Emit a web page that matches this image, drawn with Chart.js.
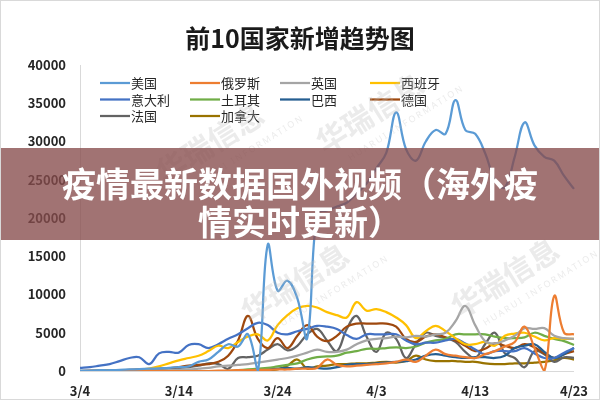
<!DOCTYPE html>
<html>
<head>
<meta charset="utf-8">
<script src="https://cdn.jsdelivr.net/npm/chart.js@4.4.0/dist/chart.umd.min.js"></script>
<style>
  html, body { margin: 0; padding: 0; background: #fff; }
  #wrap { position: relative; width: 600px; height: 400px; overflow: hidden; }
  #frame { position: absolute; left: 0; top: 0; width: 598px; height: 398px; border: 1px solid #d9d9d9; pointer-events: none; }
  #title { position: absolute; left: 0; top: 22px; width: 600px; text-align: center; color: #1a1a1a;
           font: bold 25px/30px "Noto Sans CJK SC"; }
  .wm { position: absolute; color: rgba(190,190,190,0.3); font: bold 30px "Noto Sans CJK SC"; transform: rotate(-32deg); white-space: nowrap; }
  .wm small { display: block; font: 9px "Noto Sans", sans-serif; letter-spacing: 2px; margin-left: 18px; }
  #banner { position: absolute; left: 0; top: 148px; width: 600px; height: 92px; background: rgba(135,75,75,0.78);
            color: #fff; font: bold 34px/38px "Noto Sans CJK SC"; text-align: center; padding-top: 16px; box-sizing: border-box; }
</style>
</head>
<body>
<div id="wrap">
  <canvas id="c" width="600" height="400"></canvas>
  <div id="title">前10国家新增趋势图</div>
  <div class="wm" style="left:150px;top:110px;">华瑞信息<small>HUARUI INFORMATION</small></div>
  <div class="wm" style="left:310px;top:80px;">华瑞信息<small>HUARUI INFORMATION</small></div>
  <div class="wm" style="left:235px;top:250px;">华瑞信息<small>HUARUI INFORMATION</small></div>
  <div class="wm" style="left:445px;top:245px;">华瑞信息<small>HUARUI INFORMATION</small></div>
  <div id="banner">疫情最新数据国外视频（海外疫<br>情实时更新）</div>
  <div id="frame"></div>
</div>
<script>
const days = ['3/4','3/5','3/6','3/7','3/8','3/9','3/10','3/11','3/12','3/13',
  '3/14','3/15','3/16','3/17','3/18','3/19','3/20','3/21','3/22','3/23',
  '3/24','3/25','3/26','3/27','3/28','3/29','3/30','3/31','4/1','4/2',
  '4/3','4/4','4/5','4/6','4/7','4/8','4/9','4/10','4/11','4/12',
  '4/13','4/14','4/15','4/16','4/17','4/18','4/19','4/20','4/21','4/22','4/23'];
const shownDays = ['3/4','3/14','3/24','4/3','4/13','4/23'];
const yTicks = [0, 5000, 10000, 15000, 20000, 25000, 30000, 35000, 40000];

const countries = ['美国','俄罗斯','英国','西班牙','意大利','土耳其','巴西','德国','法国','加拿大'];
const colors = ['#5b9bd5','#ed7d31','#a5a5a5','#ffc000','#4472c4','#70ad47','#255e91','#9e480e','#636363','#997300'];

const us = [50,50,100,100,150,200,250,300,350,400,500,600,1200,1500,2500,3500,3200,4800,0,16500,
  10500,11800,9500,4300,20600,21000,21500,22000,23200,24500,26500,28500,33800,29000,27500,30000,31500,31000,35400,31500,
  31000,28500,25000,24000,28000,32500,29500,28000,27500,25500,23800];
const russia = [0,0,0,0,0,0,0,0,0,0,0,0,0,0,50,50,100,100,150,150,
  200,200,300,300,400,1500,800,600,700,800,900,1000,1200,1500,1200,2000,2800,2200,2000,1800,
  1700,2200,2600,3200,3800,5800,3000,0,9800,5000,4800];
const uk = [0,0,10,20,30,40,50,60,80,100,150,200,300,400,600,700,800,900,1100,1300,
  1500,1700,2000,2400,2800,2500,2500,2800,3500,4000,4200,4300,4500,4400,4600,4500,4800,5000,6500,8500,
  6000,3900,3600,4000,4600,5600,5500,5600,4600,4300,4200];
const spain = [0,0,50,50,100,100,150,300,600,1000,1400,1700,2000,2600,3300,3000,3800,4500,4800,4000,
  6000,7300,8200,8500,8300,7700,7300,7000,9000,7900,8100,7700,7000,6000,4300,5200,5900,5200,4300,3500,
  3500,3800,3300,4600,4900,5000,4500,4000,4300,4200,4200];
const italy = [400,500,700,900,1300,1700,1800,900,2300,2500,2400,3400,3500,3000,3500,4200,4800,5600,6300,6000,
  5000,4800,5200,5500,5900,5800,5500,4700,4200,4800,4800,4800,4800,4000,3500,3700,3700,4000,4200,3600,
  2800,2200,2600,2600,2600,3000,2300,1700,1700,2400,3000];
const turkey = [0,0,0,0,0,0,0,0,0,0,0,0,0,0,0,0,100,200,300,400,
  600,800,1000,1500,1800,1900,2000,2400,2600,2900,2900,3000,3100,3000,3200,3700,4000,4200,4800,4800,
  4800,4800,4500,4300,4300,4400,5000,4600,4200,3900,3400];
const brazil = [0,0,0,0,0,0,0,0,0,0,0,0,0,0,0,0,0,0,100,200,
  300,400,300,500,400,300,500,800,900,900,1000,1100,1200,1300,1500,2000,2200,2000,1800,1700,
  1800,1800,1700,2000,3000,3300,3500,2500,1700,2200,3000];
const germany = [0,50,50,100,100,150,200,250,300,350,500,700,800,900,1200,2000,4000,7200,4200,3000,
  4300,3000,4600,6000,4500,3900,4600,5800,6200,6200,6200,6200,5800,4200,3800,4500,4800,4400,4000,3300,
  2600,2900,3600,3300,3000,3500,3100,2300,1700,2200,2600];
const france = [0,0,50,50,100,100,150,200,250,300,400,500,700,1000,900,300,1700,1800,2000,2800,
  3500,2700,3300,4800,5500,4000,2600,5500,7200,4500,2500,5000,4200,1700,3500,5000,4600,4300,3800,2500,
  1700,3500,5000,2300,1700,500,2600,2200,1200,1800,1700];
const canada = [0,0,0,0,0,0,0,0,0,0,0,0,0,0,0,0,0,50,100,150,
  200,700,1500,300,600,700,900,900,1000,1000,1100,1200,1100,1300,2000,1500,1300,1300,1300,1200,
  1200,1000,900,900,1000,1000,1100,1200,1400,1700,1500];

const series = [us, russia, uk, spain, italy, turkey, brazil, germany, france, canada];

const FONT = '"Noto Sans CJK SC", sans-serif';

// legend drawn inside the plot, 4 columns like the excel chart
const innerLegend = {
  id: 'innerLegend',
  afterDraw(chart) {
    const ctx = chart.ctx;
    const left = chart.chartArea.left;
    ctx.save();
    ctx.font = '13px ' + FONT;
    ctx.textBaseline = 'middle';
    chart.data.datasets.forEach((ds, i) => {
      const x = left + 20 + (i % 4) * 90;
      const y = 83 + Math.floor(i / 4) * 16.5;
      ctx.strokeStyle = ds.borderColor;
      ctx.lineWidth = 2.25;
      ctx.beginPath();
      ctx.moveTo(x, y);
      ctx.lineTo(x + 30, y);
      ctx.stroke();
      ctx.fillStyle = '#262626';
      ctx.fillText(ds.label, x + 31, y + 0.5);
    });
    ctx.restore();
  }
};

new Chart(document.getElementById('c'), {
  type: 'line',
  data: {
    labels: days,
    datasets: countries.map((name, i) => ({
      label: name,
      data: series[i],
      borderColor: colors[i],
      backgroundColor: colors[i],
      borderWidth: 2.25,
      pointRadius: 0,
      tension: 0.4,
      fill: false
    }))
  },
  options: {
    responsive: false,
    animation: false,
    events: [],
    layout: { padding: { left: 0, right: 26, top: 65, bottom: 0 } },
    plugins: {
      legend: { display: false },
      tooltip: { enabled: false },
      title: { display: false }
    },
    scales: {
      x: {
        grid: { display: false, drawTicks: false },
        border: { color: '#d9d9d9', width: 1 },
        afterFit(scale) { scale.height = 29; },
        ticks: {
          autoSkip: false,
          maxRotation: 0,
          padding: 12,
          color: '#262626',
          font: { family: FONT, size: 13, weight: 'bold' },
          callback(v, i) { return shownDays.includes(days[i]) ? days[i] : ''; }
        }
      },
      y: {
        min: 0,
        max: 40000,
        afterBuildTicks(scale) { scale.ticks = yTicks.map(v => ({ value: v })); },
        grid: { display: false, drawTicks: false },
        border: { color: '#d9d9d9', width: 1 },
        afterFit(scale) { scale.width = 80; },
        ticks: {
          padding: 14,
          color: '#262626',
          font: { family: FONT, size: 13, weight: 'bold' },
          callback(v) { return String(v); }
        }
      }
    }
  },
  plugins: [innerLegend]
});
</script>
</body>
</html>
